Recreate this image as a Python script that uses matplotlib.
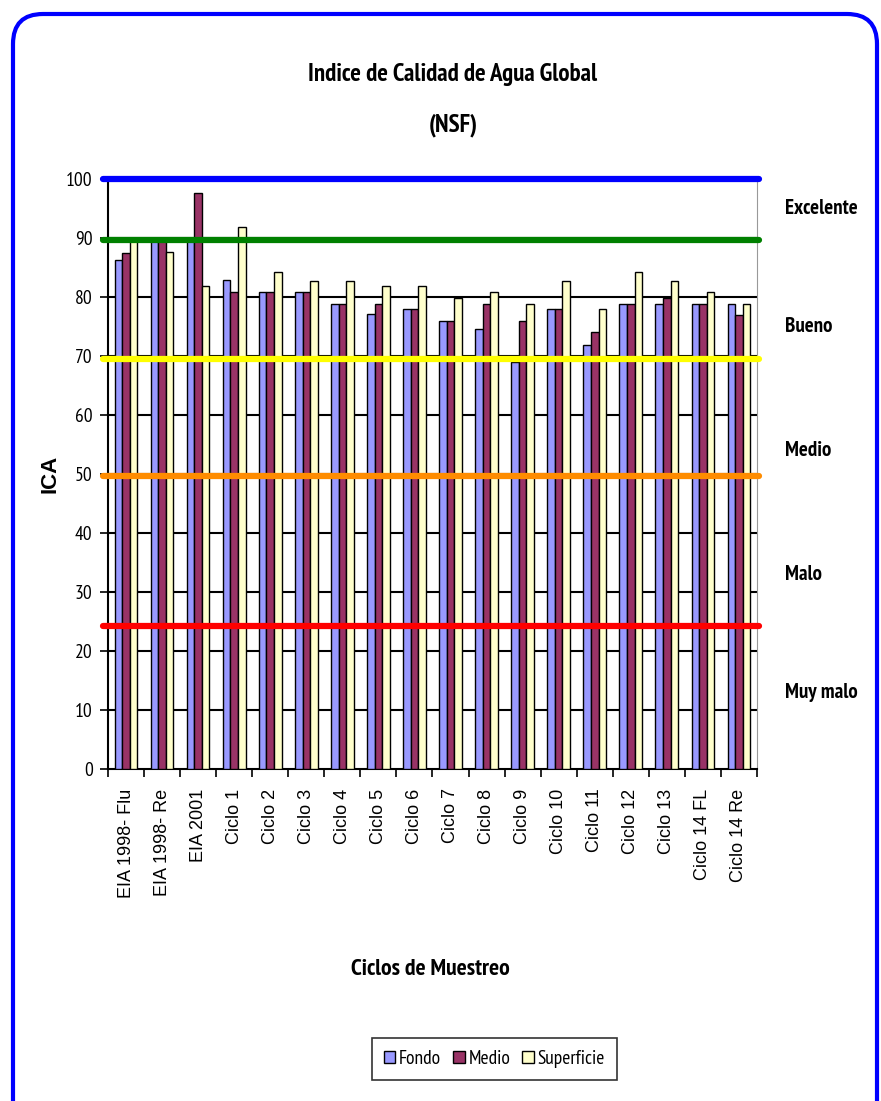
import matplotlib.pyplot as plt
import numpy as np
from matplotlib.patches import FancyBboxPatch

# Sampling cycles
ciclos = ["EIA 1998- Flu", "EIA 1998- Re", "EIA 2001", "Ciclo 1", "Ciclo 2", "Ciclo 3",
          "Ciclo 4", "Ciclo 5", "Ciclo 6", "Ciclo 7", "Ciclo 8", "Ciclo 9",
          "Ciclo 10", "Ciclo 11", "Ciclo 12", "Ciclo 13", "Ciclo 14 FL", "Ciclo 14 Re"]

# ICA values per depth
fondo = [86.3, 89.5, 89.5, 82.9, 80.8, 80.8, 78.8, 77.1, 77.9, 76.0, 74.6, 69.0,
         77.9, 71.8, 78.8, 78.8, 78.8, 78.8]
medio = [87.5, 89.5, 97.7, 80.8, 80.8, 80.8, 78.8, 78.8, 77.9, 76.0, 78.9, 76.0,
         77.9, 74.1, 78.8, 79.8, 78.8, 77.0]
superficie = [89.5, 87.7, 81.9, 91.9, 84.2, 82.8, 82.8, 81.9, 81.9, 79.8, 80.8, 78.9,
              82.8, 78.0, 84.2, 82.8, 80.8, 78.8]

# Quality class limits and names
limites = [100, 89.7, 69.5, 49.7, 24.2]
colores_limites = ["#0000FF", "#008000", "#FFFF00", "#FF8C00", "#FF0000"]
clases = ["Excelente", "Bueno", "Medio", "Malo", "Muy malo"]
pos_clases = [95, 75, 54, 33, 13]

narrow = ["PT Sans Narrow", "DejaVu Sans"]

fig = plt.figure(figsize=(8.81, 11.01), dpi=100)

# rounded blue frame (inches)
frame = FancyBboxPatch((0.13, -0.5), 8.64, 11.37, boxstyle="round,pad=0,rounding_size=0.3",
                       transform=fig.dpi_scale_trans, facecolor="white", edgecolor="#0000FF",
                       linewidth=3, zorder=-10)
fig.patches.append(frame)

ax = fig.add_axes([0.1226, 0.3015, 0.7366, 0.5359])
ax.set_facecolor("none")

x = np.arange(len(ciclos))
w = 0.21
ax.bar(x - w, fondo, w, color="#9999FF", edgecolor="black", linewidth=1, zorder=3, label="Fondo")
ax.bar(x, medio, w, color="#993366", edgecolor="black", linewidth=1, zorder=3, label="Medio")
ax.bar(x + w, superficie, w, color="#FFFFCC", edgecolor="black", linewidth=1, zorder=3, label="Superficie")

# black gridlines behind the bars
for v in range(10, 100, 10):
    ax.axhline(v, color="black", linewidth=1.5, zorder=1)

# class limit lines
for v, c in zip(limites, colores_limites):
    ax.plot([-0.65, 17.55], [v, v], color=c, linewidth=4.5, solid_capstyle="round",
            zorder=5, clip_on=False)

ax.set_xlim(-0.5, 17.5)
ax.set_ylim(0, 100)
ax.set_yticks(range(0, 101, 10))
ax.set_yticklabels([str(v) for v in range(0, 101, 10)], family=narrow, fontsize=14)
ax.set_xticks(x)
ax.set_xticklabels(ciclos, rotation=90, family="Liberation Sans", fontsize=13)
ax.set_xticks(np.arange(-0.5, 18, 1), minor=True)
ax.tick_params(axis="x", which="major", length=0, pad=14)
ax.tick_params(axis="x", which="minor", length=6, width=1.2, direction="out")
ax.tick_params(axis="y", length=6, width=1.2, direction="out", pad=5)

ax.spines["top"].set_visible(False)
ax.spines["right"].set_color("#999999")
ax.spines["left"].set_linewidth(1.5)
ax.spines["bottom"].set_linewidth(1.5)

ax.set_ylabel("ICA", fontsize=16, fontweight="bold", family="Liberation Sans")
ax.yaxis.set_label_coords(-0.073, 0.5)

# class names on the right
for name, p in zip(clases, pos_clases):
    ax.text(1.043, p, name, transform=ax.get_yaxis_transform(), fontsize=15,
            fontweight="bold", family=narrow, va="center", ha="left")

fig.text(0.514, 0.932, "Indice de Calidad de Agua Global", ha="center", va="center",
         fontsize=18, fontweight="bold", family=narrow)
fig.text(0.514, 0.886, "(NSF)", ha="center", va="center",
         fontsize=18, fontweight="bold", family=narrow)
fig.text(0.489, 0.119, "Ciclos de Muestreo", ha="center", va="center",
         fontsize=17, fontweight="bold", family=narrow)

leg = ax.legend(loc="center", bbox_to_anchor=(0.561, 0.038), bbox_transform=fig.transFigure,
                ncol=3, frameon=True, fancybox=False, edgecolor="black",
                prop={"family": narrow, "size": 14}, handlelength=0.6, handleheight=0.6,
                handletextpad=0.2, columnspacing=0.6, borderpad=0.6)
leg.get_frame().set_linewidth(1.2)

fig.savefig("out.png", dpi=100)
